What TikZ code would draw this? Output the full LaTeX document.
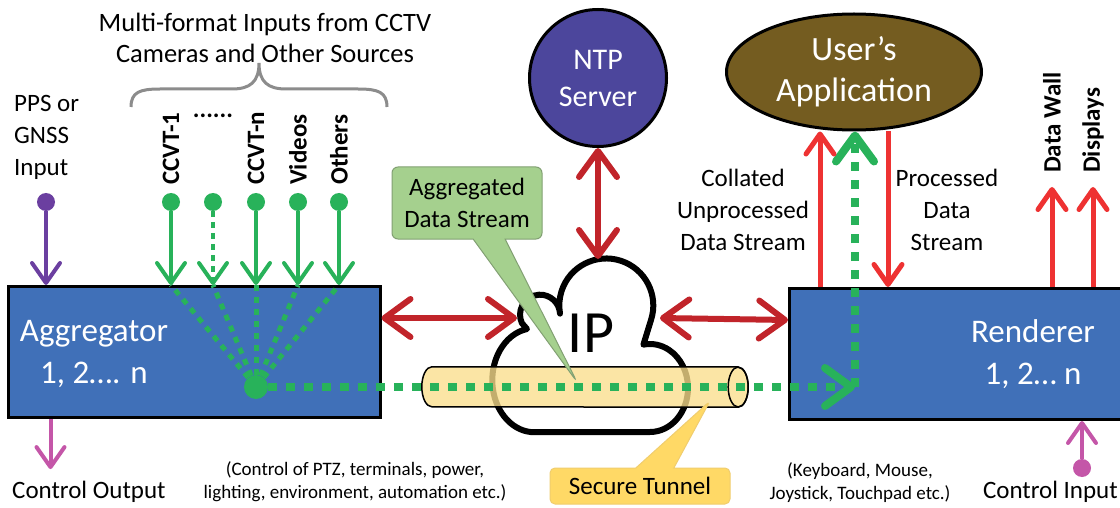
\documentclass[tikz,border=0pt]{standalone}
\usepackage{fontspec}
\setmainfont{Carlito}
\usetikzlibrary{arrows.meta,shapes.geometric,shapes.callouts}
\definecolor{boxblue}{RGB}{64,112,184}
\definecolor{ntpblue}{RGB}{76,70,156}
\definecolor{appbrown}{RGB}{116,92,32}
\definecolor{ingreen}{RGB}{40,178,90}
\definecolor{ppspurple}{RGB}{107,63,160}
\definecolor{ctlpink}{RGB}{196,86,168}
\definecolor{darkred}{RGB}{193,36,42}
\definecolor{lightred}{RGB}{238,50,50}
\definecolor{calgreen}{RGB}{165,208,142}
\definecolor{caledge}{RGB}{130,160,115}
\definecolor{tunyellow}{RGB}{250,222,140}
\definecolor{secgold}{RGB}{255,217,102}
\definecolor{secedge}{RGB}{240,205,110}
\definecolor{bracegray}{RGB}{140,140,140}

\begin{document}
\begin{tikzpicture}[x=1pt,y=-1pt]
\tikzstyle{block}=[draw=black,line width=3pt,fill=boxblue]
\tikzstyle{big}=[text=white,font=\fontsize{33}{42}\selectfont,align=center,inner sep=0pt]
\tikzstyle{txt}=[font=\fontsize{25}{32}\selectfont,align=center,inner sep=0pt]
\tikzstyle{small}=[font=\fontsize{19}{23}\selectfont,align=center,inner sep=0pt]
\tikzstyle{vlabel}=[font=\bfseries\fontsize{25}{30}\selectfont,rotate=90,anchor=west,inner sep=0pt]
\tikzstyle{dot}=[circle,inner sep=0pt,minimum size=18pt]
\tikzstyle{ginput}=[draw=ingreen,line width=4pt,-{Straight Barb[round,length=20pt,width=28pt]}]
\tikzstyle{gfan}=[draw=ingreen,line width=5pt,dash pattern=on 6pt off 6pt]
\tikzstyle{gdash}=[draw=ingreen,line width=8pt,dash pattern=on 9pt off 9pt,-{Straight Barb[round,length=26pt,width=38pt]}]
\tikzstyle{darkarrow}=[draw=darkred,line width=6pt,{Straight Barb[round,length=26pt,width=38pt]}-{Straight Barb[round,length=26pt,width=38pt]}]
\tikzstyle{redarrow}=[draw=lightred,line width=5pt,-{Straight Barb[round,length=20pt,width=28pt]}]
\tikzstyle{ctlarrow}=[draw=ctlpink,line width=4pt,-{Straight Barb[round,length=20pt,width=28pt]}]

\fill[white] (0,0) rectangle (1120,508);
\clip (0,0) rectangle (1120,508);

\node[txt,font=\fontsize{26.5}{31}\selectfont] (title) at (265,38) {Multi-format Inputs from CCTV\\Cameras and Other Sources};
\draw[bracegray,line width=3pt] (131,107) .. controls (131,92) and (140,89) .. (160,89) -- (232,89)
    .. controls (250,89) and (259,82) .. (259,63) .. controls (259,82) and (268,89) .. (286,89)
    -- (358,89) .. controls (378,89) and (387,92) .. (387,107);
\node[txt,align=left,anchor=west] (pps) at (14,137) {PPS or\\GNSS\\Input};

\node[block,minimum width=372pt,minimum height=131pt] (agg) at (194,352) {};
\node[big] (aggtxt) at (94,354) {Aggregator\\1, 2…. n};
\node[block,minimum width=360pt,minimum height=131pt,anchor=north west] (rend) at (788,287) {};
\node[big] (rendtxt) at (1033,354) {Renderer\\1, 2… n};
\node[circle,draw,line width=3pt,fill=ntpblue,minimum size=137pt,big,font=\fontsize{30}{37}\selectfont] (ntp) at (598,78) {NTP\\Server};
\node[ellipse,draw,line width=3pt,fill=appbrown,minimum width=255pt,minimum height=116pt,big,font=\fontsize{34}{41}\selectfont] (app) at (854,72) {User’s\\Application};

\draw[line width=6pt,fill=white,line join=round] (651,320) arc[start angle=-18,end angle=190,radius=47pt]
    arc[start angle=3,end angle=205,radius=20pt] -- (527,329)
    arc[start angle=100,end angle=270,x radius=42pt,y radius=52pt] -- (650,432)
    arc[start angle=-90,end angle=100,x radius=38pt,y radius=44pt] -- cycle;
\node[font=\fontsize{60}{60}\selectfont,inner sep=0pt] (ip) at (591,333) {IP};
\coordinate (clwest) at (517,318);
\coordinate (cleast) at (660,318);
\coordinate (cltop) at (598,259);

\draw[darkarrow] ([yshift=34pt]agg.east) -- (clwest);
\draw[darkarrow] (cleast) -- ([yshift=34pt]rend.west);
\draw[darkarrow] (ntp.south) -- (cltop);

\node[minimum width=326pt,minimum height=40pt,inner sep=0pt] (tun) at (585,387) {};
\draw[line width=1.5pt,fill=tunyellow,fill opacity=0.78] ([xshift=-10pt]tun.north east) -- ([xshift=10pt]tun.north west)
    arc[start angle=90,end angle=270,x radius=10pt,y radius=20pt] -- ([xshift=-10pt]tun.south east)
    arc[start angle=-90,end angle=90,x radius=10pt,y radius=20pt];
\draw[line width=1.5pt] ([xshift=-10pt]tun.east) ellipse[x radius=10pt,y radius=20pt];

\node[rectangle callout,draw=caledge,line width=1pt,fill=calgreen,rounded corners=6pt,minimum width=150pt,minimum height=72pt,
  callout absolute pointer={(577,382)},callout pointer width=32pt,txt] (agd) at (467,203) {Aggregated\\Data Stream};
\node[rectangle callout,draw=secedge,line width=1pt,fill=secgold,rounded corners=5pt,minimum width=180pt,minimum height=36pt,
  callout absolute pointer={(710,401)},callout pointer width=38pt,txt] (sec) at (640,486) {Secure Tunnel};

\node[vlabel] (l1) at (171,185) {CCVT-1};
\node[vlabel] (ln) at (256,185) {CCVT-n};
\node[vlabel] (lv) at (298,185) {Videos};
\node[vlabel] (lo) at (339,185) {Others};
\node[font=\bfseries\fontsize{25}{30}\selectfont,inner sep=0pt] (ldots) at (213,116) {......};
\node[dot,fill=ingreen] (c1) at (171,202) {};
\node[dot,fill=ingreen] (c2) at (213,202) {};
\node[dot,fill=ingreen] (c3) at (256,202) {};
\node[dot,fill=ingreen] (c4) at (298,202) {};
\node[dot,fill=ingreen] (c5) at (339,202) {};
\foreach \c in {c1,c3,c4,c5}
  \draw[ginput] (\c) -- (\c |- agg.north);
\draw[ginput,dash pattern=on 6pt off 5pt] (c2) -- (c2 |- agg.north);

\node[dot,fill=ingreen,minimum size=24pt] (hub) at (256,387) {};
\foreach \c in {c1,c2,c3,c4,c5}
  \draw[gfan] (hub) -- (\c |- agg.north);
\coordinate (turn) at (855,387);
\draw[gdash] (hub) -- (turn);
\draw[gdash] (turn) -- (turn |- app.south);

\node[dot,fill=ppspurple] (ppsdot) at (46,202) {};
\draw[ctlarrow,draw=ppspurple] (ppsdot) -- (ppsdot |- agg.north);

\node[txt,anchor=west] (cout) at (12,492) {Control Output};
\draw[ctlarrow] ([xshift=44pt]agg.south west) -- ([xshift=44pt,yshift=12pt]agg.south west |- cout.north);
\node[txt,anchor=east] (cin) at (1118,492) {Control Input};
\node[dot,fill=ctlpink] (cindot) at (1082,468) {};
\draw[ctlarrow] (cindot) -- (cindot |- rend.south);

\node[small] (ptz) at (355,482) {(Control of PTZ, terminals, power,\\lighting, environment, automation etc.)};
\node[small] (kbd) at (860,483) {(Keyboard, Mouse,\\Joystick, Touchpad etc.)};

\node[txt] (coll) at (743,210) {Collated\\Unprocessed\\Data Stream};
\node[txt] (proc) at (947,210) {Processed\\Data\\Stream};
\draw[redarrow] ([xshift=32pt]rend.north west) -- ([xshift=32pt]rend.north west |- app.south);
\draw[redarrow] ([xshift=100pt]rend.north west |- app.south) -- ([xshift=100pt]rend.north west);

\node[vlabel] (dw) at (1052,173) {Data Wall};
\node[vlabel] (disp) at (1093,173) {Displays};
\draw[redarrow,shorten >=14pt] (dw |- rend.north) -- (dw);
\draw[redarrow,shorten >=14pt] (disp |- rend.north) -- (disp);
\end{tikzpicture}
\end{document}
